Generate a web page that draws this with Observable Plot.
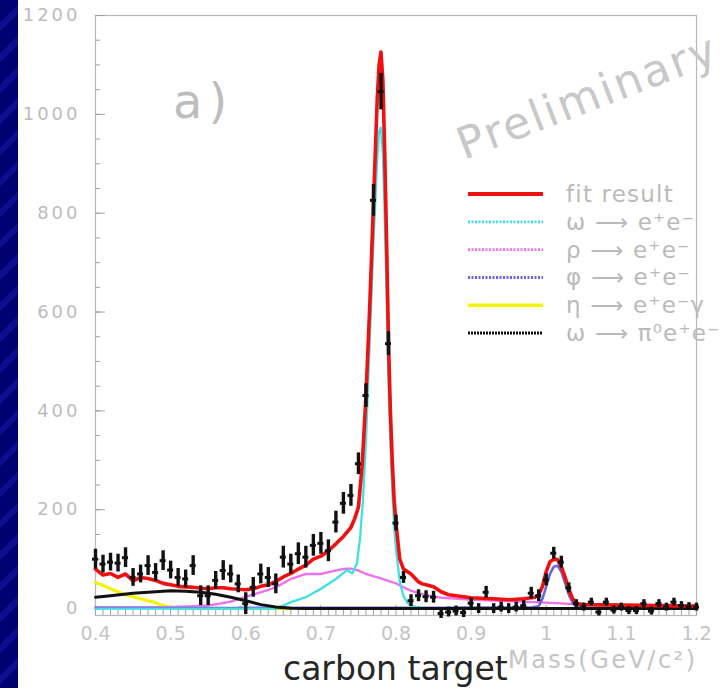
<!DOCTYPE html>
<html><head><meta charset="utf-8">
<script src="https://cdn.jsdelivr.net/npm/d3@7"></script>
<script src="https://cdn.jsdelivr.net/npm/@observablehq/plot@0.6"></script>
<style>
html,body{margin:0;padding:0;background:#fff;}
body{width:724px;height:688px;overflow:hidden;position:relative;}
#strip{position:absolute;left:0;top:0;width:18px;height:688px;background:repeating-linear-gradient(135deg,#000070 0 16px,#0d0d8e 16px 22px);}
#chart{position:absolute;left:0;top:0;}
</style></head><body><div id="strip"></div><div id="chart"></div>
<script>
// ---- data ----
const mass = [0.40,0.41,0.42,0.43,0.44,0.45,0.46,0.47,0.48,0.49,
  0.50,0.51,0.52,0.53,0.54,0.55,0.56,0.57,0.58,0.59,
  0.60,0.61,0.62,0.63,0.64,0.65,0.66,0.67,0.68,0.69,
  0.70,0.71,0.72,0.73,0.74,0.75,0.76,0.77,0.78,0.79,
  0.80,0.81,0.82,0.83,0.84,0.85,0.86,0.87,0.88,0.89,
  0.90,0.91,0.92,0.93,0.94,0.95,0.96,0.97,0.98,0.99,
  1.00,1.01,1.02,1.03,1.04,1.05,1.06,1.07,1.08,1.09,
  1.10,1.11,1.12,1.13,1.14,1.15,1.16,1.17,1.18,1.19,1.20];
const counts = [100,90,94,92,103,63,70,87,73,97,
  78,63,60,87,26,26,57,77,70,50,
  10,43,70,63,50,104,90,111,104,128,
  132,117,175,213,229,293,431,826,1046,536,
  173,63,16,26,24,23,-10,-7,-5,-8,
  11,0,33,0,3,0,3,6,31,26,
  58,112,94,42,10,3,13,-7,13,-3,
  3,-4,-4,10,-5,10,3,13,6,4,3];
const errors = [20,18,18,18,20,18,18,20,18,20,
  18,18,18,20,20,20,18,20,18,18,
  22,20,20,20,20,22,20,22,22,22,
  22,22,22,22,22,22,24,32,37,24,
  16,12,12,12,12,12,10,10,10,10,
  10,10,12,10,10,10,10,10,12,12,
  12,12,12,10,8,8,8,8,8,8,
  8,8,8,8,8,8,8,8,8,8,8];
const binHalf = 0.004;

const fitCurve = [[0.40,80],[0.41,68],[0.42,71],[0.43,63],[0.44,70],[0.45,56],[0.46,63],[0.47,61],[0.48,57],[0.49,51],
  [0.50,48],[0.51,45],[0.52,44],[0.53,43],[0.54,41],[0.55,40],[0.56,42],[0.57,42],[0.58,40],[0.59,39],
  [0.60,38],[0.61,40],[0.62,45],[0.63,48],[0.64,55],[0.65,64],[0.66,71],[0.67,80],[0.68,88],[0.69,100],
  [0.70,106],[0.71,117],[0.72,131],[0.73,146],[0.74,164],[0.745,182],[0.75,205],[0.755,290],[0.76,430],
  [0.765,610],[0.77,820],[0.775,1030],[0.7775,1100],[0.78,1126],[0.7825,1070],[0.785,920],[0.7875,740],
  [0.79,540],[0.7925,400],[0.795,300],[0.7975,220],[0.80,172],[0.805,100],[0.81,80],[0.815,75],[0.82,70],
  [0.825,62],[0.83,54],[0.835,50],[0.84,48],[0.85,44],[0.86,34],[0.87,28],[0.88,26],[0.90,22],[0.93,20],
  [0.95,18],[0.97,20],[0.985,23],[0.99,28],[0.995,45],[1.00,75],[1.005,95],[1.01,100],[1.015,99],[1.02,85],
  [1.025,64],[1.03,40],[1.035,20],[1.04,10],[1.05,8],[1.10,7],[1.15,6],[1.20,5]];
const omegaCurve = [[0.40,0],[0.64,0],[0.65,6],[0.66,13],[0.68,23],[0.70,40],[0.72,60],[0.73,72],[0.735,78],
  [0.742,71],[0.748,92],[0.752,140],[0.756,220],[0.76,340],[0.765,540],[0.77,740],[0.775,910],[0.7775,965],
  [0.78,974],[0.7825,920],[0.785,790],[0.7875,630],[0.79,460],[0.7925,330],[0.795,240],[0.7975,170],[0.80,120],
  [0.805,55],[0.81,25],[0.815,12],[0.82,6],[0.83,2],[0.85,0],[1.20,0]];
const rhoCurve = [[0.40,3],[0.45,3],[0.50,3],[0.55,6],[0.58,14],[0.60,24],[0.62,33],[0.64,43],[0.66,60],[0.68,70],
  [0.70,70],[0.72,77],[0.73,80],[0.74,81],[0.75,77],[0.76,70],[0.78,61],[0.80,51],[0.81,43],[0.82,36],[0.84,27],
  [0.86,22],[0.90,18],[0.95,15],[1.00,12],[1.05,8],[1.10,5],[1.20,2]];
const phiCurve = [[0.40,1],[0.98,2],[0.99,5],[0.995,20],[1.00,45],[1.005,70],[1.01,85],[1.015,87],[1.02,75],
  [1.025,52],[1.03,28],[1.035,12],[1.04,4],[1.05,1],[1.20,0]];
const etaCurve = [[0.40,53],[0.41,47],[0.42,40],[0.43,34],[0.44,28],[0.45,24],[0.46,20],[0.47,16],[0.48,12],
  [0.49,6],[0.50,2],[0.51,0.5],[0.66,0]];
const dalitzCurve = [[0.40,23],[0.42,26],[0.45,31],[0.48,34],[0.50,36],[0.52,35],[0.54,33],[0.56,29],[0.58,23],
  [0.60,16],[0.62,8],[0.64,3],[0.66,0.5],[0.68,0],[1.20,0]];

const yMajor = [0,200,400,600,800,1000,1200];
const yLabels = ["0","200","400","600","800","1000","1200"];
const yMinor = [0,50,100,150,200,250,300,350,400,450,500,550,600,650,700,750,800,850,900,950,1000,1050,1100,1150,1200];
const xMajor = [0.4,0.5,0.6,0.7,0.8,0.9,1.0,1.1,1.2];
const xLabels = ["0.4","0.5","0.6","0.7","0.8","0.9","1","1.1","1.2"];
const xMinor = [0.41,0.42,0.43,0.44,0.45,0.46,0.47,0.48,0.49,0.51,0.52,0.53,0.54,0.55,0.56,0.57,0.58,0.59,
  0.61,0.62,0.63,0.64,0.65,0.66,0.67,0.68,0.69,0.71,0.72,0.73,0.74,0.75,0.76,0.77,0.78,0.79,
  0.81,0.82,0.83,0.84,0.85,0.86,0.87,0.88,0.89,0.91,0.92,0.93,0.94,0.95,0.96,0.97,0.98,0.99,
  1.01,1.02,1.03,1.04,1.05,1.06,1.07,1.08,1.09,1.11,1.12,1.13,1.14,1.15,1.16,1.17,1.18,1.19];

const legendLabels = ["fit result","ω ⟶ e⁺e⁻","ρ ⟶ e⁺e⁻","φ ⟶ e⁺e⁻","η ⟶ e⁺e⁻γ","ω ⟶ π⁰e⁺e⁻"];
const legendColors = ["#f01010","#3ee0e8","#ee70ee","#6464e0","#f4f400","#111111"];
const legendDash = [null,"2 1.5","2 1.5","2 1.5",null,"2 1"];
const legendWidth = [3.6,2.4,2.4,2.6,3.2,2.6];

const xTitle = "Mass(GeV/c²)";
const mainTitle = "carbon target";
const panelLabel = "a)";
const watermark = "Preliminary";

// ---- build ----
const points = mass.map((m,i)=>({m, v:counts[i], e:errors[i]}));
const curve = (arr, i, extra={}) => Plot.line(arr, {x:d=>d[0], y:d=>d[1], stroke:legendColors[i],
  strokeWidth:legendWidth[i], strokeDasharray:legendDash[i] ?? undefined, ...extra});

const W=724, H=688, mL=95, mR=28, mT=15, mB=73;
const chart = Plot.plot({
  width:W, height:H, marginLeft:mL, marginRight:mR, marginTop:mT, marginBottom:mB,
  x:{domain:[0.4,1.2]}, y:{domain:[-14,1200]},
  style:{background:"transparent", fontFamily:"'DejaVu Sans', sans-serif", overflow:"visible"},
  marks:[
    Plot.frame({stroke:"#b8b8b8", strokeWidth:1.2}),
    Plot.axisY({ticks:yMinor, tickSize:-5, tickFormat:()=>"", stroke:"#a0a0a0", label:null}),
    Plot.axisY({ticks:yMajor, tickSize:-10, tickFormat:()=>"", stroke:"#a0a0a0", label:null}),
    Plot.axisY({ticks:yMajor, tickSize:0, tickPadding:15, tickFormat:d=>yLabels[yMajor.indexOf(d)],
      fill:"#bcbcbc", fontSize:18, label:null}),
    Plot.axisX({ticks:xMinor, tickSize:-5, tickFormat:()=>"", stroke:"#a0a0a0", label:null}),
    Plot.axisX({ticks:xMajor, tickSize:-10, tickFormat:()=>"", stroke:"#a0a0a0", label:null}),
    Plot.axisX({ticks:xMajor, tickSize:0, tickPadding:11, tickFormat:d=>xLabels[xMajor.indexOf(d)],
      fill:"#c4c4c4", fontSize:19, label:null}),
    curve(etaCurve,4),
    curve(rhoCurve,2),
    curve(phiCurve,3),
    curve(omegaCurve,1),
    curve(dalitzCurve,5,{strokeDasharray:undefined, strokeWidth:3}),
    curve(fitCurve,0),
    Plot.ruleX(points,{x:"m", y1:d=>d.v-d.e, y2:d=>d.v+d.e, stroke:"#111", strokeWidth:3.4}),
    Plot.ruleY(points,{y:"v", x1:d=>d.m-binHalf, x2:d=>d.m+binHalf, stroke:"#111", strokeWidth:3})
  ]
});
document.getElementById("chart").appendChild(chart);

const svg = d3.select(chart);
svg.selectAll('g[aria-label="y-axis tick label"] text').attr("letter-spacing", 3);
const FF = "'DejaVu Sans', sans-serif";
// legend
const lg = svg.append("g").attr("font-family",FF).attr("text-anchor","start");
legendLabels.forEach((t,i)=>{
  const y = 194 + i*27.8;
  lg.append("line").attr("x1",468).attr("x2",543).attr("y1",y).attr("y2",y)
    .attr("stroke",legendColors[i]).attr("stroke-width",legendWidth[i]+0.4)
    .attr("stroke-dasharray",legendDash[i]);
  lg.append("text").attr("x",566).attr("y",y+8).attr("font-size",23).attr("fill","#bababa")
    .attr("letter-spacing",1.2).text(t);
});
// titles
const tg = svg.append("g").attr("font-family",FF).attr("text-anchor","start");
tg.append("text").attr("x",283).attr("y",680).attr("font-size",33).attr("fill","#262626").text(mainTitle);
tg.append("text").attr("x",508).attr("y",668).attr("font-size",24).attr("fill","#c4c4c4")
  .attr("textLength",187).attr("lengthAdjust","spacing").text(xTitle);
tg.append("text").attr("x",173).attr("y",118).attr("font-size",48).attr("fill","#bdbdbd")
  .attr("letter-spacing",6).text(panelLabel);
tg.append("text").attr("transform","translate(464,160) rotate(-21)").attr("font-size",44).attr("fill","#c8c8c8")
  .attr("letter-spacing",2.5).text(watermark);
</script></body></html>
